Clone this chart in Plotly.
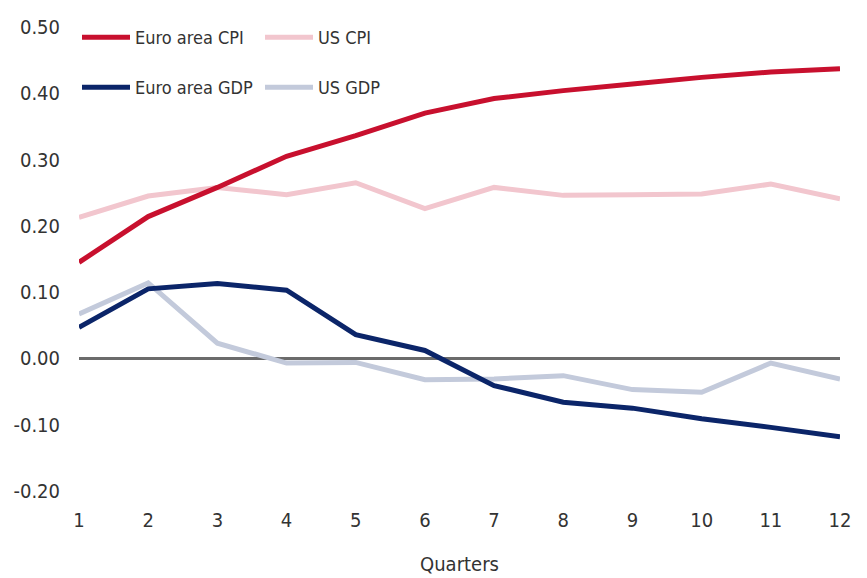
import plotly.graph_objects as go

quarters = [1, 2, 3, 4, 5, 6, 7, 8, 9, 10, 11, 12]
euro_cpi = [0.145, 0.214, 0.258, 0.305, 0.336, 0.370, 0.392, 0.404, 0.414, 0.424, 0.432, 0.437]
us_cpi = [0.213, 0.245, 0.258, 0.247, 0.265, 0.226, 0.258, 0.246, 0.247, 0.248, 0.263, 0.241]
euro_gdp = [0.047, 0.105, 0.113, 0.103, 0.036, 0.012, -0.041, -0.066, -0.075, -0.091, -0.104, -0.118]
us_gdp = [0.067, 0.114, 0.023, -0.007, -0.006, -0.032, -0.031, -0.026, -0.047, -0.051, -0.007, -0.031]
y_ticks = [-0.2, -0.1, 0.0, 0.1, 0.2, 0.3, 0.4, 0.5]
y_tick_text = ["-0.20", "-0.10", "0.00", "0.10", "0.20", "0.30", "0.40", "0.50"]

FONT = "Liberation Sans Narrow, DejaVu Sans Condensed, Arial Narrow, sans-serif"
TXT = "#333333"
W, H = 859, 570

fig = go.Figure()
# zero line
fig.add_trace(go.Scatter(x=[quarters[0], quarters[-1]], y=[0, 0], mode="lines",
                         line=dict(color="#6b6b6b", width=3), showlegend=False, hoverinfo="skip"))
fig.add_trace(go.Scatter(x=quarters, y=us_cpi, name="US CPI", mode="lines",
                         line=dict(color="#f2c6ce", width=5), legend="legend"))
fig.add_trace(go.Scatter(x=quarters, y=us_gdp, name="US GDP", mode="lines",
                         line=dict(color="#c3cadb", width=5), legend="legend2"))
fig.add_trace(go.Scatter(x=quarters, y=euro_gdp, name="Euro area GDP", mode="lines",
                         line=dict(color="#0b2569", width=5), legend="legend2"))
fig.add_trace(go.Scatter(x=quarters, y=euro_cpi, name="Euro area CPI", mode="lines",
                         line=dict(color="#c8102e", width=5), legend="legend"))

leg_common = dict(orientation="h", xanchor="left", yanchor="top",
                  xref="container", yref="container", x=69 / W,
                  font=dict(family=FONT, size=18, color=TXT), bgcolor="rgba(0,0,0,0)",
                  itemwidth=48,
                  entrywidth=120, entrywidthmode="pixels", traceorder="reversed")

fig.update_layout(
    width=W, height=H,
    margin=dict(l=71, r=27, t=19, b=87, autoexpand=False),
    plot_bgcolor="white", paper_bgcolor="white",
    font=dict(family=FONT, size=20, color=TXT),
    legend=dict(**leg_common, y=1 - 11 / H),
    legend2=dict(**leg_common, y=1 - 61 / H),
    xaxis=dict(range=[1, 12], tickmode="array", tickvals=quarters, automargin=False,
               ticks="outside", ticklen=11, tickcolor="rgba(0,0,0,0)",
               showgrid=False, zeroline=False, showline=False,
               title=dict(text="Quarters", font=dict(family=FONT, size=20, color=TXT), standoff=25),
               tickfont=dict(family=FONT, size=20, color=TXT)),
    yaxis=dict(range=[-0.2, 0.5], tickmode="array", tickvals=y_ticks, ticktext=y_tick_text,
               automargin=False,
               ticks="outside", ticklen=14, tickcolor="rgba(0,0,0,0)",
               showgrid=False, zeroline=False, showline=False,
               tickfont=dict(family=FONT, size=20, color=TXT)),
)

fig.write_html("out.html")
